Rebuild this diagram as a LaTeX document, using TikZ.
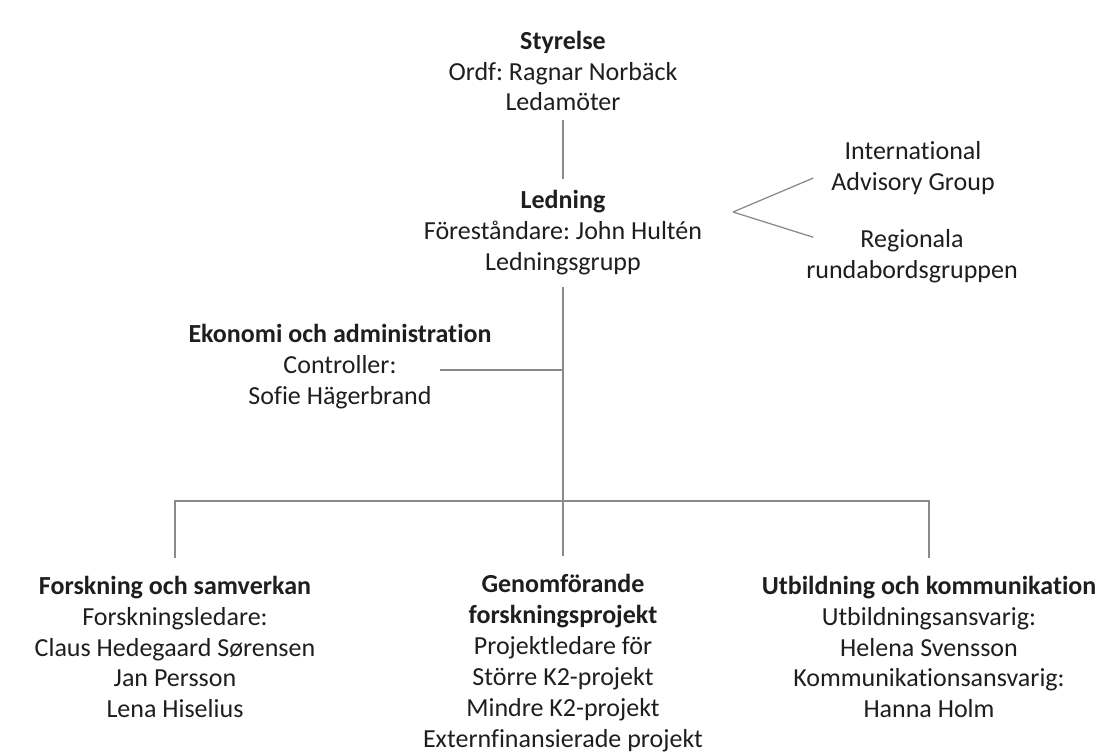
\documentclass[tikz,border=0pt]{standalone}
\usepackage{fontspec}
\setmainfont{Carlito}[Ligatures=NoCommon]
\usetikzlibrary{calc}
\definecolor{inkgray}{HTML}{1E1E1E}
\definecolor{linegray}{HTML}{8A8A8A}
\frenchspacing
\tikzset{
  unit/.style={align=center, text=inkgray, inner sep=0pt, outer sep=0pt,
    font=\fontsize{18.5}{22}\selectfont},
  link/.style={draw=linegray, line width=0.9pt}
}
\begin{document}
\begin{tikzpicture}[x=0.025cm, y=-0.025cm]
      \useasboundingbox (0,0) rectangle (1108,754);
      \node[unit] (styrelse) at (563,71) {\textbf{Styrelse}\\Ordf: Ragnar Norbäck\\Ledamöter};
      \node[unit] (ledning) at (563,233) {\textbf{Ledning}\\Föreståndare: John Hultén\\Ledningsgrupp};
      \node[unit] (iag) at (913,168) {International\\Advisory Group};
      \node[unit] (rrg) at (912,256) {Regionala\\rundabordsgruppen};
      \node[unit] (ekonomi) at (340,367) {\textbf{Ekonomi och administration}\\Controller:\\Sofie Hägerbrand};
      \node[unit] (forskning) at (175,647) {\textbf{Forskning och samverkan}\\Forskningsledare:\\Claus Hedegaard Sørensen\\Jan Persson\\Lena Hiselius};
      \node[unit] (genomf) at (563,663) {\textbf{Genomförande}\\\textbf{forskningsprojekt}\\Projektledare för\\Större K2-projekt\\Mindre K2-projekt\\Externfinansierade projekt};
      \node[unit] (utbildning) at (929,647) {\textbf{Utbildning och kommunikation}\\Utbildningsansvarig:\\Helena Svensson\\Kommunikationsansvarig:\\Hanna Holm};
      \coordinate (fork) at (733,212);
      \coordinate (bar) at (563,501);
      \begin{scope}[link]
        \draw ($(styrelse.south)+(0,9)$) -- ($(ledning.north)+(0,-12)$);
        \draw ($(ledning.south)+(0,12)$) -- ($(genomf.north)+(0,-18)$);
        \draw (fork) -- ($(iag.west)+(-18,10)$);
        \draw (fork) -- ($(rrg.north west)+(7,8)$);
        \draw ($(ekonomi.center)+(100,3)$) -- ($(ekonomi.center -| bar)+(0,3)$);
        \draw ($(forskning.north)+(0,-18)$) -- (forskning.north |- bar) -- (utbildning.north |- bar) -- ($(utbildning.north)+(0,-18)$);
      \end{scope}
    \end{tikzpicture}
\end{document}
